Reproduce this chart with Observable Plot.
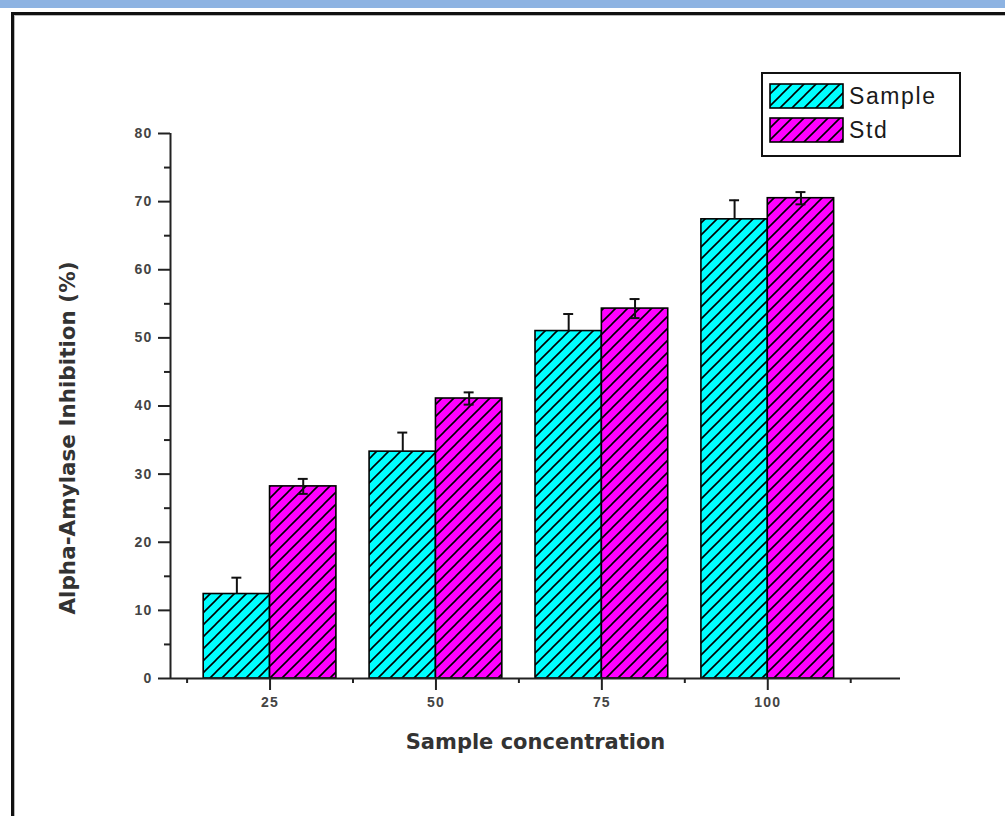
<!DOCTYPE html>
<html><head><meta charset="utf-8">
<script src="https://cdn.jsdelivr.net/npm/d3@7"></script>
<script src="https://cdn.jsdelivr.net/npm/@observablehq/plot@0.6"></script>
<style>
body{margin:0;background:#fff;}
#wrap{position:relative;width:1005px;height:816px;overflow:hidden;background:#fff;}
.band{position:absolute;left:0;top:0;width:1005px;height:8px;background:#8DB3E2;}
.ftop{position:absolute;left:11px;top:12px;width:994px;height:3px;background:#111;}
.ftop2{position:absolute;left:14px;top:15px;width:991px;height:1px;background:#b8b8b8;}
.fleft{position:absolute;left:11px;top:12px;width:3px;height:804px;background:#111;}
.fleft2{position:absolute;left:14px;top:15px;width:1px;height:801px;background:#b8b8b8;}
#chart{position:absolute;left:0;top:0;}
#chart svg g[aria-label="y-axis tick label"] text, #chart svg g[aria-label="x-axis tick label"] text{letter-spacing:1.2px;}
#legend{position:absolute;left:761px;top:72px;width:196px;height:81px;border:2px solid #111;background:#fff;}
.item{position:absolute;left:6px;height:26px;display:flex;align-items:center;}
.item svg{display:block;}
.item span{font-family:"Liberation Sans",Arial,sans-serif;font-size:23px;letter-spacing:1.6px;color:#1a1a1a;margin-left:4px;}
</style></head><body>
<div id="wrap">
  <div class="band"></div>
  <div class="ftop"></div><div class="ftop2"></div>
  <div class="fleft"></div><div class="fleft2"></div>
  <div id="chart"></div>
  <div id="legend"></div>
</div>
<script>
const concentrations = [25, 50, 75, 100];
const seriesNames = ["Sample", "Std"];
const sampleValues = [12.4, 33.3, 51.0, 67.4];
const sampleErrors = [2.4, 2.8, 2.5, 2.8];
const stdValues = [28.2, 41.1, 54.3, 70.5];
const stdErrors = [1.1, 0.9, 1.4, 0.9];
const yTicks = [0, 10, 20, 30, 40, 50, 60, 70, 80];
const yMinorTicks = [5, 15, 25, 35, 45, 55, 65, 75];
const xTicks = [25, 50, 75, 100];
const xMinorTicks = [12.5, 37.5, 62.5, 87.5, 112.5];
const xLabel = "Sample concentration";
const yLabel = "Alpha-Amylase Inhibition (%)";
const fills = {Sample: "#00FFFF", Std: "#FF00FF"};

const barW = 10;
const rows = [];
concentrations.forEach((c, i) => {
  rows.push({conc: c, series: "Sample", value: sampleValues[i], err: sampleErrors[i], x1: c - barW, x2: c, cx: c - barW / 2});
  rows.push({conc: c, series: "Std", value: stdValues[i], err: stdErrors[i], x1: c, x2: c + barW, cx: c + barW / 2});
});
const capHalf = 0.75;

const tickText = {fontSize: 14, fontWeight: "bold", fill: "#444", fontFamily: "Liberation Sans, Arial, sans-serif"};
const labelFont = {fontWeight: "bold", fill: "#333", fontFamily: "DejaVu Sans, Verdana, sans-serif"};

const plot = Plot.plot({
  width: 1005,
  height: 816,
  marginLeft: 170,
  marginRight: 105,
  marginTop: 133,
  marginBottom: 138,
  style: {background: "transparent", overflow: "visible"},
  x: {type: "linear", domain: [10, 120]},
  y: {domain: [0, 80]},
  marks: [
    Plot.rectY(rows, {x1: "x1", x2: "x2", y1: 0, y2: "value",
      fill: d => d.series === "Sample" ? "url(#hatch-sample)" : "url(#hatch-std)",
      stroke: "#000", strokeWidth: 1.6}),
    Plot.ruleX(rows, {x: "cx", y1: d => d.series === "Sample" ? d.value : d.value - d.err, y2: d => d.value + d.err, stroke: "#111", strokeWidth: 2}),
    Plot.ruleY(rows, {y: d => d.value + d.err, x1: d => d.cx - capHalf, x2: d => d.cx + capHalf, stroke: "#111", strokeWidth: 2}),
    Plot.ruleY(rows.filter(d => d.series === "Std"), {y: d => d.value - d.err, x1: d => d.cx - capHalf, x2: d => d.cx + capHalf, stroke: "#111", strokeWidth: 2}),
    Plot.axisY({ticks: yTicks, tickSize: 12, tickPadding: 6, strokeWidth: 2, stroke: "#222", label: null, ...tickText}),
    Plot.axisY({ticks: yMinorTicks, tickSize: 6, strokeWidth: 2, stroke: "#222", text: null, label: null}),
    Plot.axisX({ticks: xTicks, tickSize: 12, tickPadding: 7, strokeWidth: 2, stroke: "#222", label: null, ...tickText}),
    Plot.axisX({ticks: xMinorTicks, tickSize: 5, strokeWidth: 2, stroke: "#222", text: null, label: null}),
    Plot.ruleX([10], {y1: 0, y2: 80, stroke: "#222", strokeWidth: 2}),
    Plot.ruleY([0], {x1: 10, x2: 120, stroke: "#222", strokeWidth: 2}),
    Plot.text([xLabel], {frameAnchor: "bottom", dy: 70, textAnchor: "middle", text: d => d, fontSize: 21, ...labelFont}),
    Plot.text([yLabel], {frameAnchor: "left", dx: -102, dy: 32, textAnchor: "middle", rotate: -90, text: d => d, fontSize: 21.5, ...labelFont})
  ]
});

function addPatterns(svgSel) {
  const defs = svgSel.insert("defs", ":first-child");
  for (const name of seriesNames) {
    const s = 12;
    const p = defs.append("pattern").attr("id", name === "Sample" ? "hatch-sample" : "hatch-std")
      .attr("patternUnits", "userSpaceOnUse").attr("width", s).attr("height", s);
    p.append("rect").attr("width", s).attr("height", s).attr("fill", fills[name]);
    p.append("path").attr("d", `M-3,3L3,-3M0,${s}L${s},0M${s - 3},${s + 3}L${s + 3},${s - 3}`)
      .attr("stroke", "#000").attr("stroke-width", 1.6);
  }
}
addPatterns(d3.select(plot));
document.getElementById("chart").appendChild(plot);

const legend = d3.select("#legend");
seriesNames.forEach((name, i) => {
  const item = legend.append("div").attr("class", "item").style("top", (9 + i * 34) + "px");
  const sw = item.append("svg").attr("width", 76).attr("height", 26);
  sw.append("rect").attr("x", 1).attr("y", 1).attr("width", 73).attr("height", 24)
    .attr("fill", name === "Sample" ? "url(#hatch-sample)" : "url(#hatch-std)")
    .attr("stroke", "#000").attr("stroke-width", 1.6);
  item.append("span").text(name);
});
</script>
</body></html>
